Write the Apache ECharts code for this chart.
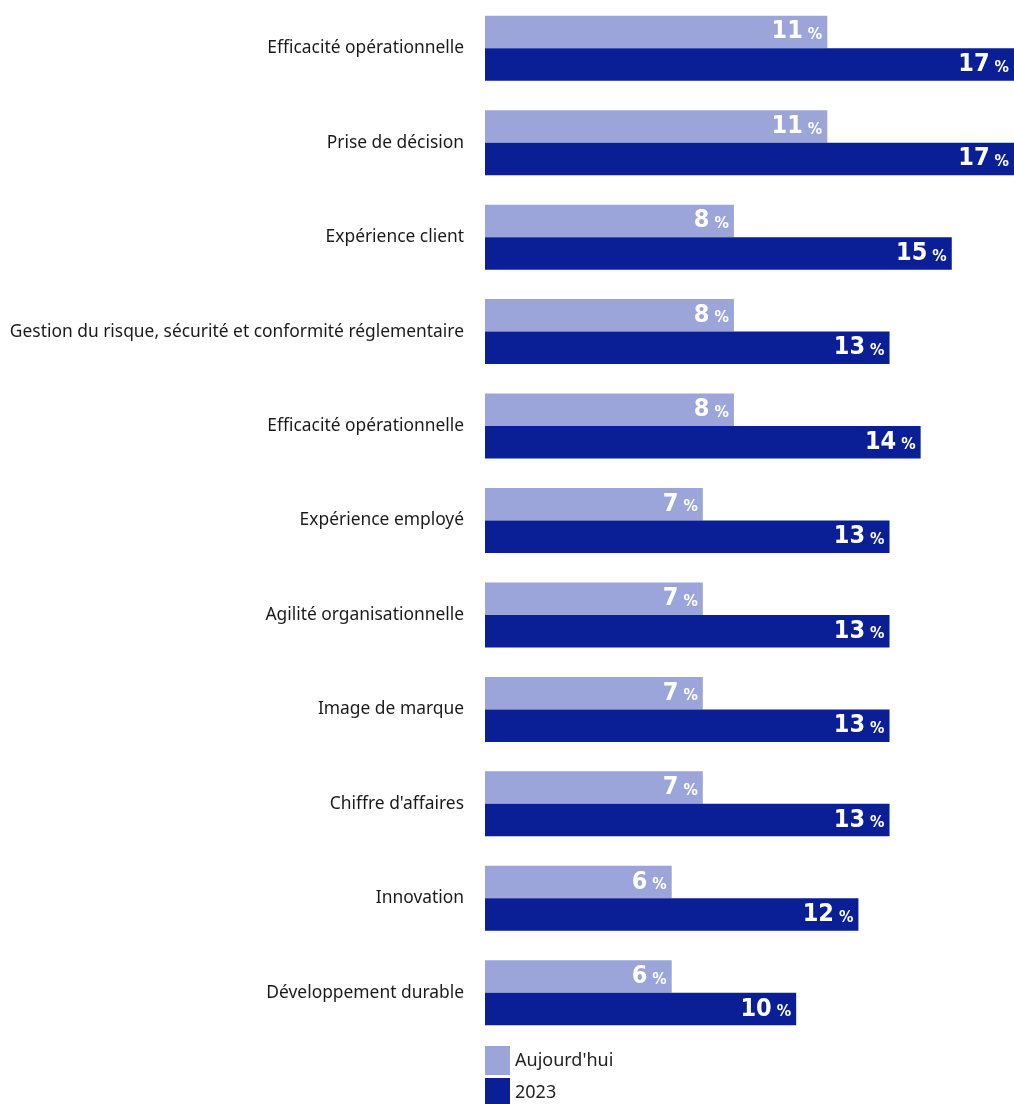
<!DOCTYPE html>
<html><head><meta charset="utf-8">
<script src="https://cdn.jsdelivr.net/npm/echarts@6/dist/echarts.min.js"></script>
<style>html,body{margin:0;padding:0;background:#fff}#c{width:1014px;height:1104px}</style>
</head><body><div id="c"></div>
<script>
const categories = ["Efficacité opérationnelle","Prise de décision","Expérience client","Gestion du risque, sécurité et conformité réglementaire","Efficacité opérationnelle","Expérience employé","Agilité organisationnelle","Image de marque","Chiffre d'affaires","Innovation","Développement durable"];
const seriesNames = ["Aujourd'hui","2023"];
const today = [11,11,8,8,8,7,7,7,7,6,6];
const y2023 = [17,17,15,13,14,13,13,13,13,12,10];

const chart = echarts.init(document.getElementById('c'), null, {renderer:'canvas'});
const label = {
  show:true, position:'insideRight', distance:5,
  formatter: p => '{n|' + p.value + '}{p| %}',
  rich:{
    n:{fontFamily:'DejaVu Sans Condensed', fontWeight:'bold', fontSize:25, color:'#fff'},
    p:{fontFamily:'DejaVu Sans Condensed', fontWeight:'bold', fontSize:16, color:'#fff', padding:[6,0,0,0]}
  }
};
const legText = {fontFamily:'Noto Sans', fontSize:18, color:'#222'};
chart.setOption({
  animation:false,
  grid:{left:485, right:0, top:1, height:1039, containLabel:false},
  xAxis:{type:'value', min:0, max:17, show:false},
  yAxis:{type:'category', data:categories, inverse:true,
    axisLine:{show:false}, axisTick:{show:false},
    axisLabel:{margin:21, fontFamily:'Noto Sans', fontSize:17.4, color:'#1a1a1a'}},
  legend:[
    {left:485, top:1046, padding:0, itemWidth:25, itemHeight:29, icon:'rect', textStyle:legText, data:[seriesNames[0]]},
    {left:485, top:1078, padding:0, itemWidth:25, itemHeight:29, icon:'rect', textStyle:legText, data:[seriesNames[1]]}
  ],
  series:[
    {name:seriesNames[0], type:'bar', data:today, barWidth:32.5, barGap:'0%', itemStyle:{color:'#9BA5D9'}, label},
    {name:seriesNames[1], type:'bar', data:y2023, barWidth:32.5, barGap:'0%', itemStyle:{color:'#0A1E96'}, label}
  ]
});
</script></body></html>
